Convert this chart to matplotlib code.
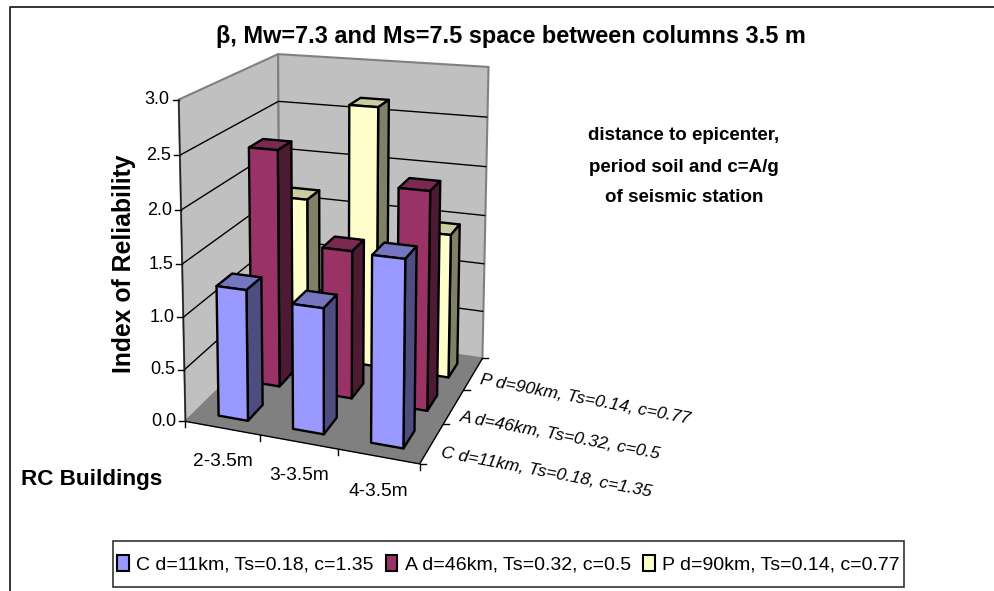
import numpy as np
import matplotlib
matplotlib.use('Agg')
import matplotlib.pyplot as plt
from matplotlib.patches import Polygon, Patch, Rectangle

# values
categories = ['2-3.5m', '3-3.5m', '4-3.5m']
series = ['C d=11km, Ts=0.18, c=1.35', 'A d=46km, Ts=0.32, c=0.5', 'P d=90km, Ts=0.14, c=0.77']
c_values = [1.25, 1.18, 1.72]
a_values = [2.35, 1.45, 2.1]
p_values = [1.65, 2.65, 1.45]
z_ticks = [0.0, 0.5, 1.0, 1.5, 2.0, 2.5, 3.0]

# front, top, side
c_colors = ['#9999FF', '#7676C0', '#4D4D80']
a_colors = ['#993366', '#7A2952', '#4D1A33']
p_colors = ['#FFFFCC', '#CCCCA3', '#808066']

FONT = 'Liberation Sans'

# box corners of the 3d chart -> pixel, used to fit the excel like perspective
box_3d = [(0, 0, 0), (0, 0, 3), (3, 0, 0), (3, 3, 0), (3, 3, 3), (0, 3, 3), (0, 3, 0),
          (0, 0, 1.5), (3, 3, 1.5), (0, 3, 2.5)]
box_px = [(186, 420), (178, 100), (420, 465), (483, 357), (488, 67), (279, 53), (279, 330),
          (182, 264), (485, 216), (279, 102)]


def fit_camera(pts3, pts2):
    rows, rhs = [], []
    for (x, y, z), (u, v) in zip(pts3, pts2):
        rows.append([x, y, z, 1, 0, 0, 0, 0, -u * x, -u * y, -u * z])
        rows.append([0, 0, 0, 0, x, y, z, 1, -v * x, -v * y, -v * z])
        rhs += [u, v]
    h = np.linalg.lstsq(np.array(rows, float), np.array(rhs, float), rcond=None)[0]
    return np.append(h, 1).reshape(3, 4)


cam = fit_camera(box_3d, box_px)


def proj(x, y, z):
    p = cam @ np.array([x, y, z, 1.0])
    return p[0] / p[2], p[1] / p[2]


fig = plt.figure(figsize=(9.95, 5.91), dpi=100)
ax = fig.add_axes([0, 0, 1, 1])
ax.set_xlim(0, 995)
ax.set_ylim(591, 0)
ax.axis('off')


def face(corners, color, edge='black', lw=1.7, z=2):
    ax.add_patch(Polygon([proj(*c) for c in corners], closed=True, facecolor=color,
                         edgecolor=edge, linewidth=lw, joinstyle='round', zorder=z))


def seg(a, b, color='black', lw=1.0, z=1.5):
    pa, pb = proj(*a), proj(*b)
    ax.plot([pa[0], pb[0]], [pa[1], pb[1]], color=color, lw=lw, zorder=z, solid_capstyle='butt')


# outer chart frame
ax.plot([9.5, 9.5, 995], [591, 7, 7], color='#333333', lw=1.4)

# walls and floor
face([(0, 0, 0), (0, 3, 0), (0, 3, 3), (0, 0, 3)], '#C0C0C0', edge='#808080', lw=1.5, z=1)
face([(0, 3, 0), (3, 3, 0), (3, 3, 3), (0, 3, 3)], '#C0C0C0', edge='#808080', lw=1.5, z=1)
face([(0, 0, 0), (3, 0, 0), (3, 3, 0), (0, 3, 0)], '#808080', edge='#808080', lw=0.5, z=1.2)

for t in z_ticks[1:-1]:
    seg((0, 0, t), (0, 3, t))
    seg((0, 3, t), (3, 3, t))

# axis lines and ticks
seg((0, 0, 0), (0, 0, 3), color='#222222', lw=1.1)
seg((0, 0, 0), (3, 0, 0))
seg((3, 0, 0), (3, 3, 0))
for t in z_ticks:
    px, py = proj(0, 0, t)
    ax.plot([px - 6, px], [py, py], color='black', lw=1.0)
    ax.text(px - 9, py, f'{t:.1f}', ha='right', va='center', family=FONT, fontsize=13)
for i in range(4):
    px, py = proj(i, 0, 0)
    ax.plot([px, px], [py, py + 6], color='black', lw=1.0)
for j in range(4):
    px, py = proj(3, j, 0)
    ax.plot([px, px + 6], [py, py], color='black', lw=1.0)

# bars, back row first so nearer ones paint over
rows = [(c_values, c_colors), (a_values, a_colors), (p_values, p_colors)]
bar_w = 0.4
bar_d = 0.45
order = 3
for j in [2, 1, 0]:
    vals, cols = rows[j]
    for i, v in enumerate(vals):
        x0, x1 = i + 0.52 - bar_w / 2, i + 0.52 + bar_w / 2
        y0, y1 = j + 0.5 - bar_d / 2, j + 0.5 + bar_d / 2
        face([(x0, y0, v), (x1, y0, v), (x1, y1, v), (x0, y1, v)], cols[1], z=order)
        face([(x1, y0, 0), (x1, y1, 0), (x1, y1, v), (x1, y0, v)], cols[2], z=order)
        face([(x0, y0, 0), (x1, y0, 0), (x1, y0, v), (x0, y0, v)], cols[0], z=order)
        order += 1

# texts
ax.text(511, 36, 'β, Mw=7.3 and Ms=7.5 space between columns 3.5 m', ha='center', va='center',
        family=FONT, fontsize=16.9, fontweight='bold')
ax.text(124, 264, 'Index of Reliability', rotation=90, ha='center', va='center',
        family=FONT, fontsize=17.8, fontweight='bold')
ax.text(92, 479, 'RC Buildings', ha='center', va='center', family=FONT, fontsize=16.2, fontweight='bold')
for y, line in zip([136, 168, 198], ['distance to epicenter,', 'period soil and c=A/g', 'of seismic station']):
    ax.text(684, y, line, ha='center', va='center', family=FONT, fontsize=13.5, fontweight='bold')

cat_x = [223, 299, 378]
cat_y = [462, 476, 491]
for x, y, label in zip(cat_x, cat_y, categories):
    ax.text(x, y, label, ha='center', va='center', family=FONT, fontsize=13.8)

ser_x = [441, 460, 480]
ser_y = [453, 417, 380]
for x, y, label in zip(ser_x, ser_y, series):
    ax.text(x, y, label, ha='left', va='center', rotation=-10.7, rotation_mode='anchor',
            family=FONT, fontsize=12.6, style='italic')

# legend box is drawn apart so its padding can match the original
ax.add_patch(Rectangle((113, 541), 791, 46, facecolor='white', edgecolor='#333333', linewidth=1.2, zorder=20))
handles = [Patch(facecolor=cols[0], edgecolor='black', linewidth=1.5, label=s)
           for (vals, cols), s in zip(rows, series)]
leg = ax.legend(handles=handles, loc='center', bbox_to_anchor=(508.5, 564), bbox_transform=ax.transData,
                ncol=3, frameon=False, prop={'family': FONT, 'size': 14}, handlelength=0.6,
                handleheight=0.9, handletextpad=0.4, columnspacing=0.6, borderpad=0, borderaxespad=0)
leg.set_zorder(21)

fig.savefig('out.png', dpi=100)
